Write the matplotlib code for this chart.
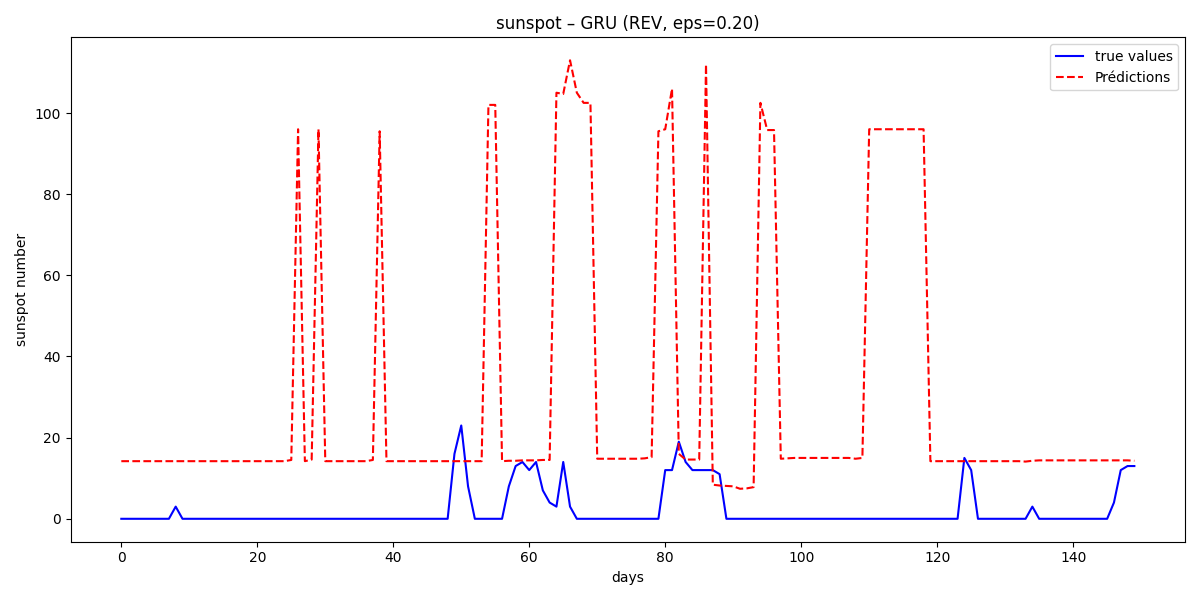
import numpy as np
import matplotlib
matplotlib.use("Agg")
import matplotlib.pyplot as plt

days = np.arange(150)

# true values
true_values = [0.0] * 150
for i, v in {8: 3, 49: 16, 50: 23, 51: 8, 57: 8, 58: 13, 59: 14, 60: 12, 61: 14,
             62: 7, 63: 4, 64: 3, 65: 14, 66: 3, 80: 12, 81: 12, 82: 19, 83: 14,
             84: 12, 85: 12, 86: 12, 87: 12, 88: 11, 124: 15, 125: 12, 134: 3,
             146: 4, 147: 12, 148: 13, 149: 13}.items():
    true_values[i] = v

predictions = (
    [14.2] * 25 + [14.5, 96, 14.2, 14.6, 96] + [14.2] * 7 + [14.5, 95.5]
    + [14.2] * 14 + [14.2, 102, 102, 14.2, 14.3, 14.3, 14.4, 14.4, 14.4, 14.5, 14.5]
    + [105, 104.7, 113, 105, 102.5, 102.5]
    + [14.8, 14.8, 14.8, 14.8, 14.8, 14.8, 14.8, 14.9, 15.2]
    + [95.5, 96, 106, 16, 14.6, 14.6, 14.6, 112, 8.4, 8.2, 8.1, 8.0, 7.4, 7.5, 7.8,
       102.5, 95.8, 95.8, 14.8, 14.9]
    + [15.0] * 9 + [14.8, 15.0] + [96] * 9
    + [14.2] * 14 + [14.1, 14.3] + [14.4] * 14 + [14.3]
)

fig, ax = plt.subplots(figsize=(12, 6))
ax.plot(days, true_values, 'b-', label='true values')
ax.plot(days, predictions, 'r--', label='Prédictions')
ax.set_title('sunspot – GRU (REV, eps=0.20)')
ax.set_xlabel('days')
ax.set_ylabel('sunspot number')
ax.legend(loc='upper right')
plt.tight_layout()
fig.savefig('out.png', dpi=100)
